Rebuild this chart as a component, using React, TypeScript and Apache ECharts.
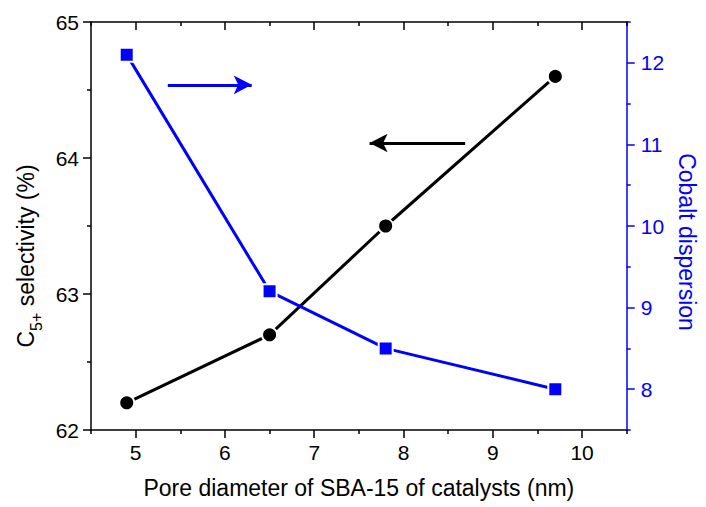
import React, { useEffect, useRef } from "react";
import * as echarts from "echarts";

const poreDiameter = [4.9, 6.5, 7.8, 9.7];
const c5Selectivity = [62.2, 62.7, 63.5, 64.6];
const cobaltDispersion = [12.1, 9.2, 8.5, 8.0];

const xMajorTicks = [5, 6, 7, 8, 9, 10];
const xMinorTicks = [4.5, 5.5, 6.5, 7.5, 8.5, 9.5, 10.5];
const rightMajorTicks = [8, 9, 10, 11, 12];
const rightMinorTicks = [7.5, 8.5, 9.5, 10.5, 11.5, 12.5];

// arrow annotations in data coordinates
const blueArrow = { from: [5.36, 11.73], to: [6.3, 11.73] };
const blackArrow = { from: [8.69, 64.11], to: [7.62, 64.11] };

const FONT = "Liberation Sans, Arial, sans-serif";
const BLUE = "#0000ff";

export default function App() {
  const ref = useRef<HTMLDivElement>(null);
  useEffect(() => {
    const chart = echarts.init(ref.current!, undefined, { renderer: "svg" });
    const xBase = { type: "value", min: 4.5, max: 10.5, splitLine: { show: false } };
    const option: any = {
      animation: false,
      backgroundColor: "#ffffff",
      grid: { left: 91, right: 72, top: 22, bottom: 77 },
      xAxis: [
        {
          ...xBase,
          position: "bottom",
          name: "Pore diameter of SBA-15 of catalysts (nm)",
          nameLocation: "middle",
          nameGap: 46,
          nameTextStyle: { fontFamily: FONT, fontSize: 23, color: "#000" },
          axisLine: { show: true, lineStyle: { color: "#000", width: 1.5 } },
          axisTick: { show: true, length: 8, customValues: xMajorTicks, lineStyle: { color: "#000", width: 1.5 } },
          axisLabel: { customValues: xMajorTicks, margin: 12, fontFamily: FONT, fontSize: 21, color: "#000" },
        },
        {
          ...xBase,
          position: "bottom",
          axisLine: { show: false },
          axisTick: { show: true, length: 4, customValues: xMinorTicks, lineStyle: { color: "#000", width: 1.5 } },
          axisLabel: { show: false },
        },
        {
          ...xBase,
          position: "top",
          axisLine: { show: true, lineStyle: { color: "#000", width: 1.5 } },
          axisTick: { show: true, inside: true, length: 8, customValues: xMajorTicks, lineStyle: { color: "#000", width: 1.5 } },
          axisLabel: { show: false },
        },
        {
          ...xBase,
          position: "top",
          axisLine: { show: false },
          axisTick: { show: true, inside: true, length: 4, customValues: xMinorTicks, lineStyle: { color: "#000", width: 1.5 } },
          axisLabel: { show: false },
        },
      ],
      yAxis: [
        {
          type: "value",
          position: "left",
          min: 62,
          max: 65,
          interval: 1,
          splitLine: { show: false },
          name: "{a|C}{sub|5+}{a| selectivity (%)}",
          nameLocation: "middle",
          nameGap: 42,
          nameTextStyle: {
            fontFamily: FONT,
            fontSize: 23,
            color: "#000",
            padding: [0, 60, 0, 0],
            rich: {
              a: { fontFamily: FONT, fontSize: 23, color: "#000", lineHeight: 38 },
              sub: { fontFamily: FONT, fontSize: 16, color: "#000", lineHeight: 16, verticalAlign: "bottom" },
            },
          },
          axisLine: { show: true, lineStyle: { color: "#000", width: 1.5 } },
          axisTick: { show: true, length: 8, lineStyle: { color: "#000", width: 1.5 } },
          minorTick: { show: true, splitNumber: 2, length: 4, lineStyle: { color: "#000", width: 1.5 } },
          axisLabel: { margin: 12, fontFamily: FONT, fontSize: 21, color: "#000" },
        },
        {
          type: "value",
          position: "right",
          min: 7.5,
          max: 12.5,
          splitLine: { show: false },
          name: "Cobalt dispersion",
          nameLocation: "middle",
          nameRotate: -90,
          nameGap: 48,
          nameTextStyle: { fontFamily: FONT, fontSize: 23, color: BLUE, padding: [0, 0, 0, 32] },
          axisLine: { show: true, lineStyle: { color: BLUE, width: 1.5 } },
          axisTick: { show: true, length: 8, customValues: rightMajorTicks, lineStyle: { color: BLUE, width: 1.5 } },
          axisLabel: { customValues: rightMajorTicks, margin: 14, fontFamily: FONT, fontSize: 21, color: BLUE },
        },
        {
          type: "value",
          position: "right",
          min: 7.5,
          max: 12.5,
          splitLine: { show: false },
          axisLine: { show: false },
          axisTick: { show: true, length: 4, customValues: rightMinorTicks, lineStyle: { color: BLUE, width: 1.5 } },
          axisLabel: { show: false },
        },
      ],
      series: [
        {
          type: "line",
          xAxisIndex: 0,
          yAxisIndex: 0,
          data: poreDiameter.map((x, i) => [x, c5Selectivity[i]]),
          symbol: "circle",
          symbolSize: 15,
          lineStyle: { color: "#000", width: 3 },
          itemStyle: { color: "#000", borderColor: "#fff", borderWidth: 2 },
          z: 3,
          markLine: {
            silent: true,
            symbol: ["none", "arrow"],
            symbolSize: [14, 18],
            label: { show: false },
            lineStyle: { color: "#000", width: 3, type: "solid" },
            data: [[{ coord: blackArrow.from }, { coord: blackArrow.to }]],
          },
        },
        {
          type: "line",
          xAxisIndex: 0,
          yAxisIndex: 1,
          data: poreDiameter.map((x, i) => [x, cobaltDispersion[i]]),
          symbol: "rect",
          symbolSize: 14,
          lineStyle: { color: BLUE, width: 3 },
          itemStyle: { color: BLUE, borderColor: "#fff", borderWidth: 2 },
          z: 4,
          markLine: {
            silent: true,
            symbol: ["none", "arrow"],
            symbolSize: [14, 18],
            label: { show: false },
            lineStyle: { color: BLUE, width: 3, type: "solid" },
            data: [[{ coord: blueArrow.from }, { coord: blueArrow.to }]],
          },
        },
      ],
    };
    chart.setOption(option);
    return () => chart.dispose();
  }, []);
  return (
    <div
      ref={ref}
      style={{ position: "fixed", left: 0, top: 0, width: 706, height: 507, background: "#fff" }}
    />
  );
}
